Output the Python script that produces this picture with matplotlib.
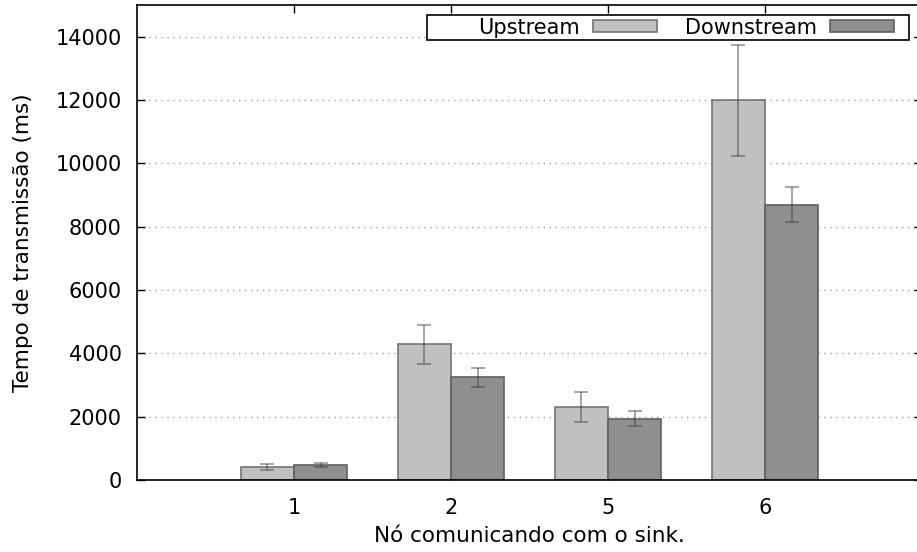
import numpy as np
import matplotlib
matplotlib.use('Agg')
import matplotlib.pyplot as plt
from matplotlib.patches import Rectangle

# data
nodes = ['1', '2', '5', '6']
upstream = [410, 4290, 2310, 12010]
upstream_lo = [330, 3660, 1840, 10240]
upstream_hi = [490, 4900, 2780, 13750]
downstream = [470, 3240, 1940, 8700]
downstream_lo = [410, 2930, 1690, 8140]
downstream_hi = [540, 3540, 2190, 9260]

plt.rcParams['font.family'] = 'DejaVu Sans'
plt.rcParams['font.size'] = 15

fig = plt.figure(figsize=(9.17, 5.52), dpi=100)
ax = fig.add_axes([137/917, 72/552, 785/917, 475/552])

x = np.arange(len(nodes))
w = 0.34
up = np.array(upstream)
dn = np.array(downstream)
up_err = [up - np.array(upstream_lo), np.array(upstream_hi) - up]
dn_err = [dn - np.array(downstream_lo), np.array(downstream_hi) - dn]

ax.bar(x - w/2, up, w, color='#c0c0c0', edgecolor='#747474', linewidth=1.2,
       label='Upstream', zorder=2)
ax.bar(x + w/2, dn, w, color='#8f8f8f', edgecolor='#606060', linewidth=1.2,
       label='Downstream', zorder=2)
ax.errorbar(x - w/2, up, yerr=up_err, fmt='none', ecolor='#404040', alpha=0.55,
            elinewidth=1.2, capsize=5, capthick=1.2, zorder=3)
ax.errorbar(x + w/2, dn, yerr=dn_err, fmt='none', ecolor='#404040', alpha=0.55,
            elinewidth=1.2, capsize=5, capthick=1.2, zorder=3)

ax.set_xlim(-1, 4)
ax.set_ylim(0, 15000)
ax.set_xticks(x)
ax.set_xticklabels(nodes)
ax.set_yticks(np.arange(0, 15000, 2000))
ax.tick_params(direction='in', top=True, right=True, length=6, width=1)
ax.tick_params(axis='y', pad=11)
ax.tick_params(axis='x', pad=13)
ax.yaxis.grid(True, linestyle=(0, (1, 3.3)), color='#a0a0a0', linewidth=1, zorder=0)
ax.set_axisbelow(True)
for s in ax.spines.values():
    s.set_linewidth(1.2)

ax.set_xlabel('Nó comunicando com o sink.', fontsize=15.5, labelpad=6)
ax.set_ylabel('Tempo de transmissão (ms)', fontsize=15.5, labelpad=16)

# gnuplot-like key: fixed box, entries packed to the right
ax.add_patch(Rectangle((427/917, 1 - 40/552), 482/917, 25/552,
                       transform=fig.transFigure, facecolor='white',
                       edgecolor='black', linewidth=1.2, zorder=5, clip_on=False))
leg = ax.legend(ncol=2, markerfirst=False, loc='center right',
                bbox_to_anchor=(894/917, 1 - 27.5/552), bbox_transform=fig.transFigure,
                frameon=False, handlelength=3.07, handleheight=0.53, handletextpad=0.63,
                columnspacing=1.34, borderpad=0, borderaxespad=0)
leg.set_zorder(6)

fig.savefig('out.png', dpi=100)
